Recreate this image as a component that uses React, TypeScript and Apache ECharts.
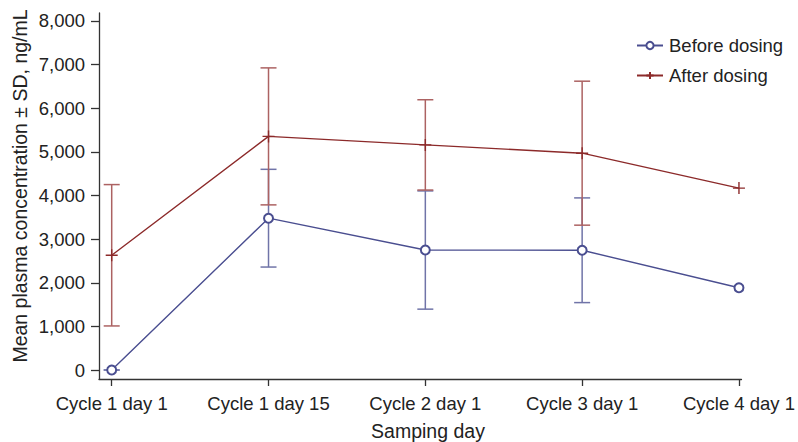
import React, { useEffect, useRef } from "react";
import * as echarts from "echarts";

const categories = ["Cycle 1 day 1", "Cycle 1 day 15", "Cycle 2 day 1", "Cycle 3 day 1", "Cycle 4 day 1"];
const beforeMean = [0, 3480, 2750, 2745, 1885];
const beforeSD: (number | null)[] = [0, 1120, 1355, 1200, null];
const afterMean = [2630, 5355, 5160, 4970, 4170];
const afterSD: (number | null)[] = [1620, 1570, 1035, 1650, null];
const yTicks = [0, 1000, 2000, 3000, 4000, 5000, 6000, 7000, 8000];
const xTicks = [0, 1, 2, 3, 4];

const BLUE = "#4a4e90";
const BLUE_BAR = "#7074a8";
const RED = "#8c2a2a";
const RED_BAR = "#ac6262";
const FONT = "Liberation Sans, Arial, sans-serif";
const FS = 18.5;
const TFS = 19.5;

function errData(mean: number[], sd: (number | null)[]) {
  const out: number[][] = [];
  mean.forEach((m, i) => {
    const s = sd[i];
    if (s !== null && s !== undefined) out.push([i, m - s, m + s]);
  });
  return out;
}

function errSeries(name: string, data: number[][], color: string, z: number) {
  return {
    type: "custom",
    name: name + " SD",
    z,
    silent: true,
    data,
    encode: { x: 0, y: [1, 2] },
    renderItem: (params: any, api: any) => {
      const x = api.value(0);
      const lo = api.coord([x, api.value(1)]);
      const hi = api.coord([x, api.value(2)]);
      const w = 8;
      const style = { stroke: color, lineWidth: 1.5, fill: "none" };
      return {
        type: "group",
        children: [
          { type: "line", shape: { x1: hi[0], y1: hi[1], x2: lo[0], y2: lo[1] }, style },
          { type: "line", shape: { x1: hi[0] - w, y1: hi[1], x2: hi[0] + w, y2: hi[1] }, style },
          { type: "line", shape: { x1: lo[0] - w, y1: lo[1], x2: lo[0] + w, y2: lo[1] }, style },
        ],
      };
    },
  };
}

export default function App() {
  const ref = useRef<HTMLDivElement>(null);
  useEffect(() => {
    if (!ref.current) return;
    const chart = echarts.init(ref.current, null, { renderer: "svg" });
    chart.setOption({
      animation: false,
      textStyle: { fontFamily: FONT },
      grid: { left: 99, right: 54, top: 13, bottom: 442 - 379 },
      xAxis: {
        type: "value",
        min: -0.081,
        max: 4.016,
        splitLine: { show: false },
        axisLine: { show: true, onZero: false, lineStyle: { color: "#333", width: 1.3 } },
        axisTick: { show: true, customValues: xTicks, length: 7, lineStyle: { color: "#333", width: 1.3 } },
        axisLabel: {
          customValues: xTicks,
          formatter: (v: number) => categories[Math.round(v)],
          color: "#222",
          fontSize: FS,
          fontFamily: FONT,
          margin: 15,
        },
      },
      yAxis: {
        type: "value",
        min: -206,
        max: 8183,
        splitLine: { show: false },
        axisLine: { show: true, onZero: false, lineStyle: { color: "#333", width: 1.3 } },
        axisTick: { show: true, customValues: yTicks, length: 8, lineStyle: { color: "#333", width: 1.3 } },
        axisLabel: {
          customValues: yTicks,
          formatter: (v: number) => v.toLocaleString("en-US"),
          color: "#222",
          fontSize: FS,
          fontFamily: FONT,
          margin: 14,
        },
      },
      legend: {
        orient: "vertical",
        left: 631,
        top: 31,
        itemGap: 11,
        itemWidth: 26,
        itemHeight: 9,
        data: ["Before dosing", "After dosing"],
        textStyle: { fontSize: FS, fontFamily: FONT, color: "#222", padding: [0, 0, 0, 1] },
      },
      graphic: [
        {
          type: "text",
          x: 20,
          y: 186,
          rotation: Math.PI / 2,
          style: {
            text: "Mean plasma concentration ± SD, ng/mL",
            font: `${TFS}px ${FONT}`,
            fill: "#222",
            textAlign: "center",
            textVerticalAlign: "middle",
          },
        },
        {
          type: "text",
          x: 428,
          y: 431,
          style: {
            text: "Samping day",
            font: `${TFS}px ${FONT}`,
            fill: "#222",
            textAlign: "center",
            textVerticalAlign: "middle",
          },
        },
      ],
      series: [
        errSeries("Before dosing", errData(beforeMean, beforeSD), BLUE_BAR, 1),
        errSeries("After dosing", errData(afterMean, afterSD), RED_BAR, 2),
        {
          type: "line",
          name: "Before dosing",
          z: 3,
          data: beforeMean.map((v, i) => [i, v]),
          symbol: "emptyCircle",
          symbolSize: 9,
          lineStyle: { color: BLUE, width: 1.4 },
          itemStyle: { color: BLUE, borderColor: BLUE, borderWidth: 1.4 },
        },
        {
          type: "line",
          name: "After dosing",
          z: 4,
          data: afterMean.map((v, i) => [i, v]),
          symbol: "path://M5,0L5,10M0,5L10,5",
          symbolSize: 12,
          lineStyle: { color: RED, width: 1.4 },
          itemStyle: { color: RED, borderColor: RED, borderWidth: 1.4 },
        },
      ],
    });
    return () => chart.dispose();
  }, []);
  return <div ref={ref} style={{ width: 798, height: 442, position: "absolute", left: 0, top: 0 }} />;
}
